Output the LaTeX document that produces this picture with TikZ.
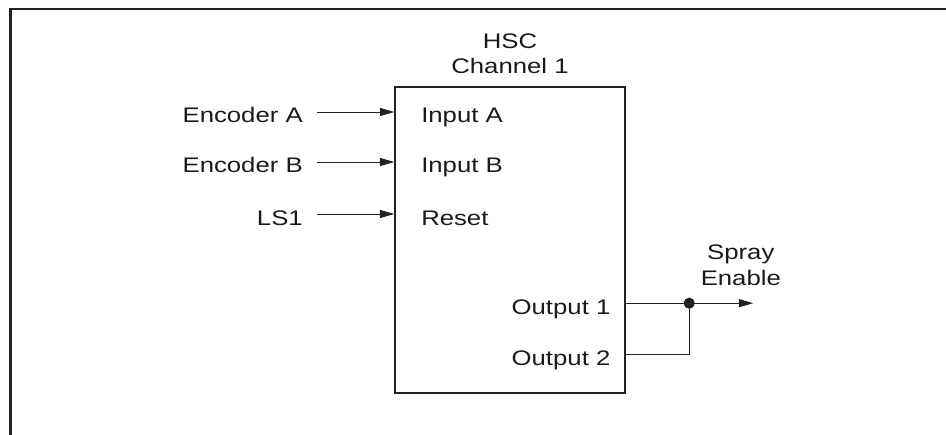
\documentclass[tikz,border=0pt]{standalone}
\usepackage{fontspec}
\setmainfont{Liberation Sans}[FakeStretch=1.22]
\usetikzlibrary{arrows.meta, positioning, calc}

\begin{document}
\begin{tikzpicture}[
    every node/.style={font=\fontsize{15}{18.3}\selectfont},
]

% ---------------------------------------------------------------- colours
\definecolor{linecolor}{HTML}{222222}   % frame, box and wires
\definecolor{textcolor}{HTML}{1A1A1A}

\tikzset{
    frame/.style={line width=2.1pt, linecolor},
    block/.style={draw=linecolor, line width=0.9pt, minimum width=5.75cm,
        minimum height=7.65cm, inner sep=0pt},
    lbl/.style={text=textcolor, text height=0.55cm, text depth=0pt, inner sep=0pt},
    src/.style={lbl, inner xsep=0.35cm},
    sig/.style={-{Triangle[length=0.36cm, width=0.2cm]}, line width=0.7pt, linecolor},
    wire/.style={line width=0.7pt, linecolor},
    title/.style={text=textcolor, align=center, inner sep=0pt, anchor=south},
}

% ================================================================
% page 23.65 x 10.85, frame only on top and left
% ================================================================
\useasboundingbox (0, 0) rectangle (23.65, 10.85);
\draw[frame] (0.258, -0.2) |- (23.9, 10.625);

% ----------------------------------------------------------------------
% the counter block
% ----------------------------------------------------------------------
\node[block] (hsc) at (12.75, 4.85) {};
\node[title] (name) at ([yshift=0.3cm]hsc.north) {HSC\\Channel 1};

% ----------------------------------------------------------------------
% inputs, rows at y = 8.05, 6.8, 5.5
% ----------------------------------------------------------------------
\node[src, anchor=east] (enca) at (7.925, 8.05) {Encoder A};
\node[src, anchor=east] (encb) at (7.925, 6.8) {Encoder B};
\node[src, anchor=east] (ls1) at (7.925, 5.5) {LS1};

\node[lbl, anchor=west, xshift=0.665cm] (ina) at (hsc.west |- enca) {Input A};
\node[lbl, anchor=west, xshift=0.665cm] (inb) at (hsc.west |- encb) {Input B};
\node[lbl, anchor=west, xshift=0.665cm] (rst) at (hsc.west |- ls1) {Reset};

\draw[sig] (enca) -- (enca -| hsc.west);
\draw[sig] (encb) -- (encb -| hsc.west);
\draw[sig] (ls1) -- (ls1 -| hsc.west);

% ----------------------------------------------------------------------
% outputs, joined at one dot
% ----------------------------------------------------------------------
\node[lbl, anchor=east, xshift=-0.375cm] (out1) at (hsc.east |- 0, 3.27) {Output 1};
\node[lbl, anchor=east, xshift=-0.375cm] (out2) at (hsc.east |- 0, 1.99) {Output 2};

\coordinate (junc) at (17.23, 3.27);
\coordinate (tip) at (18.83, 3.27);

\draw[wire] (out1 -| hsc.east) -- (junc);
\draw[wire] (out2 -| hsc.east) -| (junc);
\draw[sig] (junc) -- (tip);
\fill[linecolor] (junc) circle (0.14);

\node[title] (spray) at (18.52, 3.7) {Spray\\Enable};

\end{tikzpicture}
\end{document}
